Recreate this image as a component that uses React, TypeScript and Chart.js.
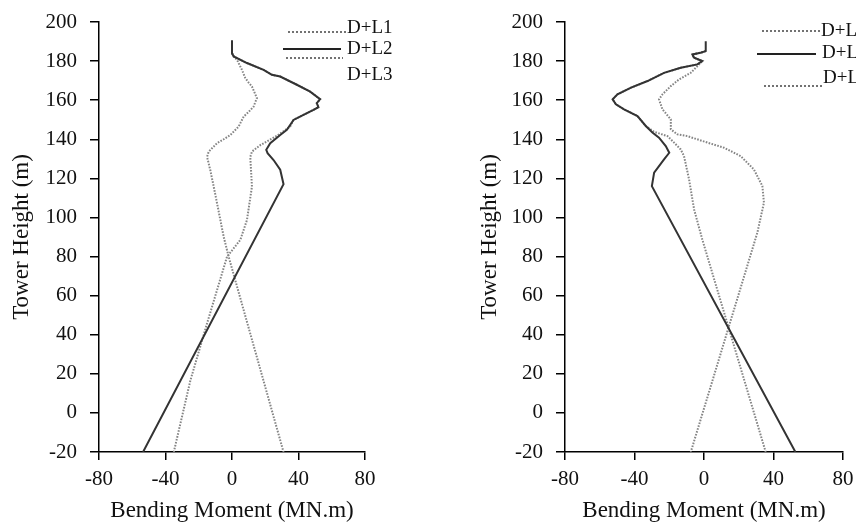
import React, { useEffect, useRef } from "react";
import { Chart, registerables } from "chart.js";

Chart.register(...registerables);

// ---------- axis ranges / ticks ----------
const xMin = -80;
const xMax = 80;
const xStep = 40;
const yMin = -20;
const yMax = 200;
const yStep = 20;

const seriesLabels = ["D+L1", "D+L2", "D+L3"];
const xTitle = "Bending Moment (MN.m)";
const yTitle = "Tower Height (m)";

// ---------- left panel ----------
const leftL1Moment = [0, 2, 3, 6, 8, 10, 12, 15, 14, 13, 10, 7, 4, -1, -5, -9, -14, -15, -13, -11, -8, -5, -2, 31];
const leftL1Height = [184, 181.5, 180.7, 175.5, 171.3, 169, 167, 161, 159, 156.7, 154, 151.6, 146.5, 142.2, 140, 138, 133.7, 131, 124, 115.8, 103, 90.1, 79.9, -20];

const leftL2Moment = [0, 0, 1, 9, 19, 24, 29, 39, 47, 53, 51, 52, 49, 43, 37, 33, 29, 23, 20.6, 21.4, 25, 29, 31, -53.5];
const leftL2Height = [190.6, 184, 182.4, 179, 175.5, 173, 172.1, 167.9, 164.4, 160.5, 158.5, 156.4, 155, 152.5, 149.9, 144.8, 142.2, 138, 134.6, 132.9, 129.4, 124.4, 117, -20];

const leftL3Moment = [0, 1, 9, 19, 24, 29, 39, 47, 53, 51, 52, 49, 43, 37, 35, 27, 17, 12, 11, 12, 9, 5, -3, -15, -25, -35];
const leftL3Height = [184, 182.4, 179, 175.5, 173, 172.1, 167.9, 164.4, 160.5, 158.5, 156.4, 155, 152.5, 149.9, 146.5, 141.8, 137, 133.7, 131, 115.8, 98.7, 88.5, 79.9, 45.8, 16.7, -20];

// ---------- right panel ----------
const rightL1Moment = [1, -2, -6.7, -5.7, -1, -3.8, -7.6, -14.4, -19.1, -23.9, -25.9, -23.9, -19.1, -19.1, -15.3, -9.5, 2, 11.5, 21.1, 28.7, 33.6, 34.5, 30.7, -7.6];
const rightL1Height = [185.1, 184.3, 183.4, 181.7, 180, 177.4, 174, 170.6, 167.2, 163, 160.4, 155.3, 150.2, 145.1, 142.5, 141.6, 138.3, 135.7, 131.4, 124.6, 116.1, 107.6, 92.2, -20];

const rightL2Moment = [1, 1, -2, -6.7, -5.7, -1, -3.8, -13.4, -23, -32.5, -42, -49.8, -52.6, -50.7, -46, -38.3, -33.5, -29.7, -25.9, -22, -20, -23, -28.7, -30, 52.6];
const rightL2Height = [190.2, 185.1, 184.3, 183.4, 181.7, 180, 178.3, 176.6, 174, 169.8, 166.4, 163, 160.4, 157.9, 155.3, 151.9, 146.8, 143.5, 140.8, 136.5, 133.1, 129.7, 122.9, 116, -20];

const rightL3Moment = [1, -2, -6.7, -5.7, -1, -3.8, -13.4, -23, -32.5, -42, -49.8, -52.6, -50.7, -46, -38.3, -33.5, -28.7, -21, -17.2, -13.4, -11.5, -8.6, -5.7, -1, 35.5];
const rightL3Height = [185.1, 184.3, 183.4, 181.7, 180, 178.3, 176.6, 174, 169.8, 166.4, 163, 160.4, 157.9, 155.3, 151.9, 146.8, 143.8, 141.6, 138.3, 134.8, 131.4, 119.5, 104.1, 88.8, -20];

// ---------- styling ----------
const FONT = "'Liberation Serif', 'Times New Roman', serif";
const TEXT = "#111";
const SOLID = { color: "#333", width: 2, dash: [] as number[] };
const DOTTED = { color: "#858585", width: 2, dash: [1.6, 1.4] };

function pts(xs: number[], ys: number[]) {
  return xs.map((x, i) => ({ x, y: ys[i] }));
}

function makeDatasets(l1x: number[], l1y: number[], l2x: number[], l2y: number[], l3x: number[], l3y: number[]) {
  const base = { showLine: true, pointRadius: 0, fill: false, tension: 0 };
  return [
    { ...base, label: seriesLabels[1], data: pts(l2x, l2y), borderColor: SOLID.color, borderWidth: SOLID.width, borderDash: SOLID.dash },
    { ...base, label: seriesLabels[0], data: pts(l1x, l1y), borderColor: DOTTED.color, borderWidth: DOTTED.width, borderDash: DOTTED.dash },
    { ...base, label: seriesLabels[2], data: pts(l3x, l3y), borderColor: DOTTED.color, borderWidth: DOTTED.width, borderDash: DOTTED.dash },
  ];
}

type LegendItem = { label: string; x0: number; x1: number; ly: number; tx: number; ty: number; solid: boolean };

const manualLegend = {
  id: "manualLegend",
  afterDraw(chart: any, _args: any, opts: any) {
    const ctx = chart.ctx as CanvasRenderingContext2D;
    (opts.items as LegendItem[]).forEach((it) => {
      ctx.save();
      ctx.strokeStyle = it.solid ? "#222" : "#444";
      ctx.lineWidth = it.solid ? 2 : 1.5;
      ctx.setLineDash(it.solid ? [] : [2, 2]);
      ctx.beginPath();
      ctx.moveTo(it.x0, it.ly);
      ctx.lineTo(it.x1, it.ly);
      ctx.stroke();
      ctx.setLineDash([]);
      ctx.fillStyle = TEXT;
      ctx.font = `19px ${FONT}`;
      ctx.textBaseline = "middle";
      ctx.textAlign = "left";
      ctx.fillText(it.label, it.tx, it.ty);
      ctx.restore();
    });
  },
};

function makeConfig(datasets: any[], padLeft: number, padRight: number, yWidth: number, legendItems: LegendItem[]) {
  const tickFont = { family: FONT, size: 21 };
  const titleFont = { family: FONT, size: 23 };
  return {
    type: "scatter" as const,
    data: { datasets },
    plugins: [manualLegend],
    options: {
      animation: false,
      responsive: false,
      maintainAspectRatio: false,
      layout: { padding: { left: padLeft, right: padRight, top: 22, bottom: 0 } },
      plugins: {
        legend: { display: false },
        tooltip: { enabled: false },
        manualLegend: { items: legendItems },
      },
      scales: {
        x: {
          type: "linear",
          min: xMin,
          max: xMax,
          ticks: { stepSize: xStep, font: tickFont, color: TEXT, padding: 7, maxRotation: 0 },
          grid: { drawOnChartArea: false, drawTicks: true, tickLength: 8, color: "#000", lineWidth: 1.5 },
          border: { display: true, color: "#000", width: 1.5 },
          title: { display: true, text: xTitle, font: titleFont, color: TEXT, padding: { top: 0, bottom: 1 } },
          afterFit: (s: any) => {
            s.height = 74;
            s.paddingLeft = 0;
            s.paddingRight = 0;
          },
        },
        y: {
          type: "linear",
          min: yMin,
          max: yMax,
          ticks: { stepSize: yStep, font: tickFont, color: TEXT, padding: 13 },
          grid: { drawOnChartArea: false, drawTicks: true, tickLength: 9, color: "#000", lineWidth: 1.5 },
          border: { display: true, color: "#000", width: 1.5 },
          title: { display: true, text: yTitle, font: titleFont, color: TEXT, padding: { top: 8, bottom: 0 } },
          afterFit: (s: any) => {
            s.width = yWidth;
            s.paddingTop = 0;
            s.paddingBottom = 0;
          },
        },
      },
    },
  };
}

const leftLegend: LegendItem[] = [
  { label: seriesLabels[0], x0: 288, x1: 346, ly: 32, tx: 347, ty: 28, solid: false },
  { label: seriesLabels[1], x0: 283, x1: 341, ly: 49, tx: 347, ty: 49, solid: true },
  { label: seriesLabels[2], x0: 286, x1: 343, ly: 58, tx: 347, ty: 75, solid: false },
];

const rightLegend: LegendItem[] = [
  { label: seriesLabels[0], x0: 334, x1: 393, ly: 31, tx: 393, ty: 31, solid: false },
  { label: seriesLabels[1], x0: 329, x1: 388, ly: 54, tx: 394, ty: 53, solid: true },
  { label: seriesLabels[2], x0: 336, x1: 395, ly: 86, tx: 395, ty: 78, solid: false },
];

export default function App() {
  const leftRef = useRef<HTMLCanvasElement | null>(null);
  const rightRef = useRef<HTMLCanvasElement | null>(null);

  useEffect(() => {
    const charts: Chart[] = [];
    if (leftRef.current) {
      charts.push(
        new Chart(
          leftRef.current,
          makeConfig(
            makeDatasets(leftL1Moment, leftL1Height, leftL2Moment, leftL2Height, leftL3Moment, leftL3Height),
            0,
            63,
            99,
            leftLegend
          ) as any
        )
      );
    }
    if (rightRef.current) {
      charts.push(
        new Chart(
          rightRef.current,
          makeConfig(
            makeDatasets(rightL1Moment, rightL1Height, rightL2Moment, rightL2Height, rightL3Moment, rightL3Height),
            40,
            13,
            97,
            rightLegend
          ) as any
        )
      );
    }
    return () => charts.forEach((c) => c.destroy());
  }, []);

  return (
    <div style={{ position: "absolute", left: 0, top: 0, width: 856, height: 526, background: "#fff", overflow: "hidden" }}>
      <canvas ref={leftRef} width={428} height={526} style={{ position: "absolute", left: 0, top: 0, width: 428, height: 526 }} />
      <canvas ref={rightRef} width={428} height={526} style={{ position: "absolute", left: 428, top: 0, width: 428, height: 526 }} />
    </div>
  );
}
